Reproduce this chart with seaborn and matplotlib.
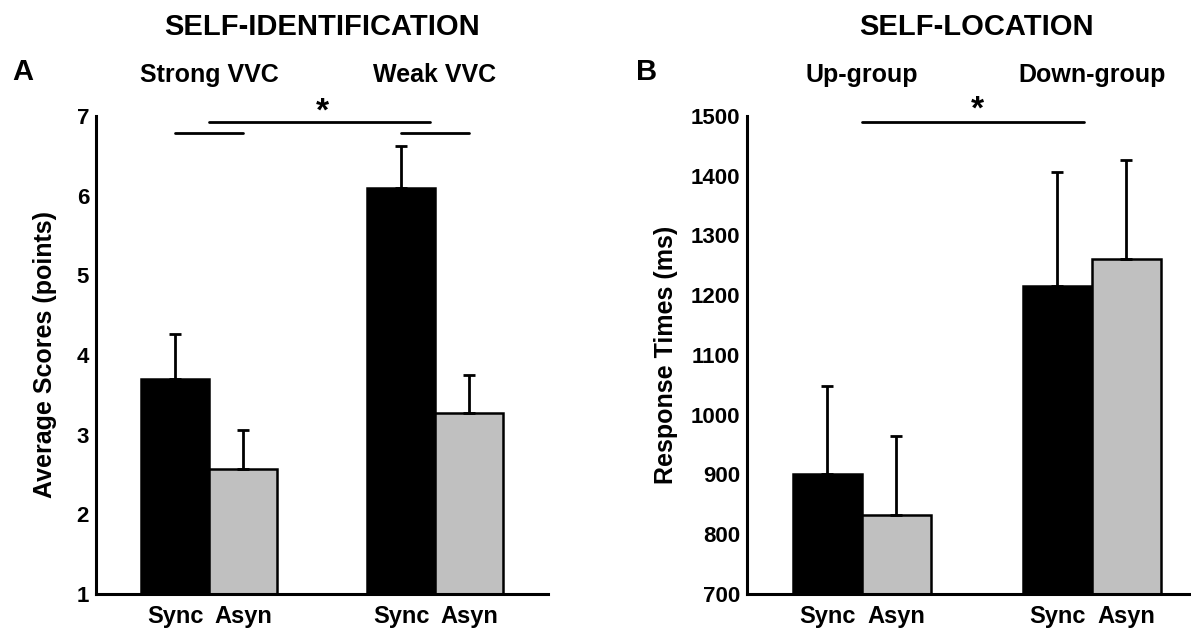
import pandas as pd
import matplotlib.pyplot as plt
import seaborn as sns
import numpy as np

sns.set_theme(style="white")
plt.rcParams['font.family'] = ['Liberation Sans', 'DejaVu Sans']
plt.rcParams['font.weight'] = 'bold'
for k in ['text.color', 'axes.labelcolor', 'xtick.color', 'ytick.color']:
    plt.rcParams[k] = 'black'

# --- data ---
conditions = ['Sync', 'Asyn']
bar_colors = ['#000000', '#c0c0c0']

# A: self-identification
groups_a = ['Strong VVC', 'Weak VVC']
means_a = [3.70, 2.57, 6.09, 3.27]
errs_a = [0.56, 0.49, 0.53, 0.48]
yticks_a = [1, 2, 3, 4, 5, 6, 7]

# B: self-location
groups_b = ['Up-group', 'Down-group']
means_b = [900, 833, 1215, 1260]
errs_b = [148, 132, 191, 167]
yticks_b = [700, 800, 900, 1000, 1100, 1200, 1300, 1400, 1500]


def make_df(groups, means, errs):
    return pd.DataFrame({'group': np.repeat(groups, 2),
                         'cond': conditions * len(groups),
                         'mean': means, 'err': errs})


def draw_panel(ax, df, yticks, title, ylabel, letter, letter_x, ylabel_x,
               short_y, long_y, long_end, star_y):
    sns.barplot(data=df, x='group', y='mean', hue='cond', palette=bar_colors,
                saturation=1, width=0.6, edgecolor='black', linewidth=1.8,
                errorbar=None, legend=False, ax=ax)
    bars = sorted(ax.patches, key=lambda p: p.get_x())
    xs = [p.get_x() + p.get_width() / 2 for p in bars]
    ax.errorbar(xs, df['mean'], yerr=[np.zeros(len(df)), df['err']], fmt='none',
                ecolor='black', elinewidth=2, capsize=4, capthick=2, zorder=3)

    ax.set_ylim(yticks[0], yticks[-1])
    ax.set_xlim(-0.5, 1.5)
    ax.set_yticks(yticks)
    ax.set_yticklabels([str(t) for t in yticks], fontsize=16, fontweight='bold')
    ax.set_xticks(xs)
    ax.set_xticklabels(conditions * 2, fontsize=17, fontweight='bold')
    ax.tick_params(axis='x', length=0, pad=8)
    ax.tick_params(axis='y', direction='in', length=4, width=2, pad=5)
    ax.set_xlabel('')
    ax.set_ylabel(ylabel, fontsize=18, fontweight='bold')
    ax.yaxis.set_label_coords(ylabel_x, 0.5)
    for s in ['top', 'right']:
        ax.spines[s].set_visible(False)
    for s in ['left', 'bottom']:
        ax.spines[s].set_linewidth(2.2)
        ax.spines[s].set_color('black')

    # headers
    ax.text(0.5, 1.186, title, transform=ax.transAxes, ha='center', va='center',
            fontsize=21, fontweight='bold')
    for i, g in enumerate(df['group'].unique()):
        ax.text(i, 1.086, g, transform=ax.get_xaxis_transform(), ha='center',
                va='center', fontsize=18, fontweight='bold')
    ax.figure.text(letter_x, 0.886, letter, ha='center', va='center',
                   fontsize=21, fontweight='bold')

    # significance markers
    if short_y is not None:
        ax.plot(xs[0:2], [short_y] * 2, color='black', lw=2, clip_on=False)
        ax.plot(xs[2:4], [short_y] * 2, color='black', lw=2, clip_on=False)
    ax.plot([0, long_end], [long_y] * 2, color='black', lw=2, clip_on=False)
    ax.text(0.5, star_y, '*', ha='center', va='center', fontsize=24, fontweight='bold')


fig = plt.figure(figsize=(11.91, 6.34), dpi=100)
ax_a = fig.add_axes([0.0806, 0.0631, 0.3795, 0.754])
ax_b = fig.add_axes([0.6272, 0.0631, 0.3862, 0.754])

draw_panel(ax_a, make_df(groups_a, means_a, errs_a), yticks_a, 'SELF-IDENTIFICATION',
           'Average Scores (points)', 'A', 0.019, -0.086, 6.78, 6.92, 0.98, 7.05)
draw_panel(ax_b, make_df(groups_b, means_b, errs_b), yticks_b, 'SELF-LOCATION',
           'Response Times (ms)', 'B', 0.543, -0.150, None, 1490, 0.965, 1510)

fig.savefig('out.png', dpi=100)
